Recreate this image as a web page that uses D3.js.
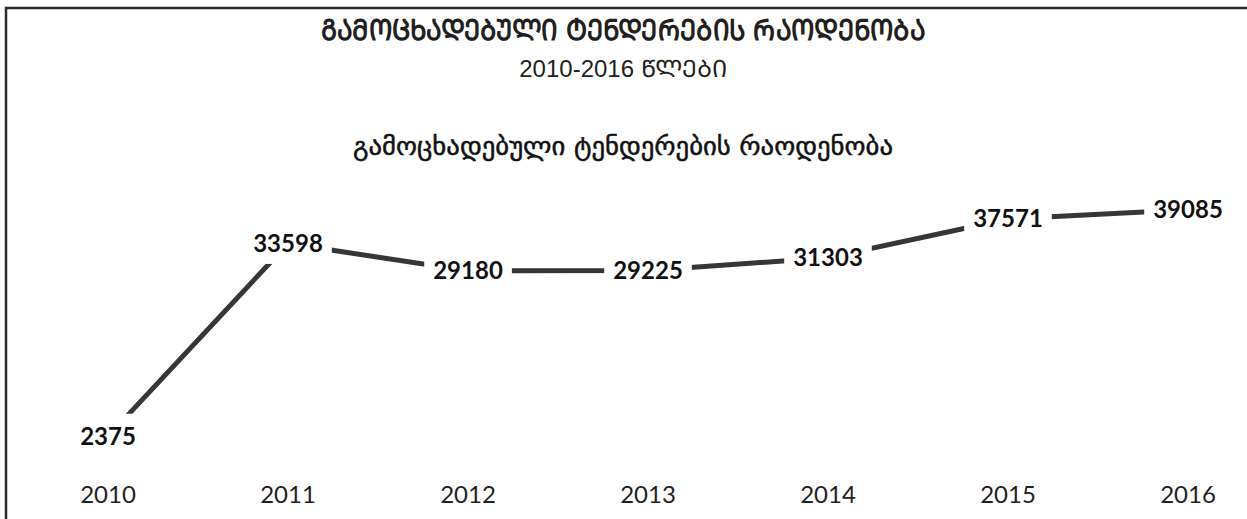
<!DOCTYPE html>
<html>
<head>
<meta charset="utf-8">
<script src="https://cdn.jsdelivr.net/npm/d3@7"></script>
<style>
	body { margin: 0; background: #fff; }
	svg { display: block; }
</style>
</head>
<body>
<div id="chart"></div>
<script>
// ===== data =====
const years = ['2010', '2011', '2012', '2013', '2014', '2015', '2016'];
const tenders = [2375, 33598, 29180, 29225, 31303, 37571, 39085];
const titleMain = 'გამოცხადებული ტენდერების რაოდენობა';
const titleYears = '2010-2016 წლები';
const seriesName = 'გამოცხადებული ტენდერების რაოდენობა';

// mkhedruli -> mtavruli (caps) for the heading
function toCaps(s) {
	return Array.from(s).map(function(ch) {
		const c = ch.charCodeAt(0);
		return (c >= 0x10D0 && c <= 0x10FA) ? String.fromCharCode(c - 0x10D0 + 0x1C90) : ch;
	}).join('');
}

const width = 1247;
const height = 519;

const svg = d3.select('#chart')
	.append('svg')
	.attr('width', width)
	.attr('height', height);

// frame (only top and left edges fall inside the picture)
svg.append('rect')
	.attr('x', 6)
	.attr('y', 8)
	.attr('width', width + 20)
	.attr('height', height + 20)
	.attr('fill', 'none')
	.attr('stroke', '#2b2b2b')
	.attr('stroke-width', 2.5);

// ===== titles =====
svg.append('text')
	.attr('x', 623)
	.attr('y', 40)
	.attr('text-anchor', 'middle')
	.attr('font-family', '"DejaVu Sans Condensed", "DejaVu Sans", sans-serif')
	.attr('font-weight', 'bold')
	.attr('font-size', '29px')
	.attr('fill', '#231f20')
	.attr('textLength', 604)
	.attr('lengthAdjust', 'spacingAndGlyphs')
	.text(toCaps(titleMain));

svg.append('text')
	.attr('x', 623)
	.attr('y', 77)
	.attr('text-anchor', 'middle')
	.attr('font-family', '"Liberation Sans", "DejaVu Sans", sans-serif')
	.attr('font-size', '24px')
	.attr('fill', '#231f20')
	.text(toCaps(titleYears));

svg.append('text')
	.attr('x', 623)
	.attr('y', 155)
	.attr('text-anchor', 'middle')
	.attr('font-family', '"DejaVu Sans", sans-serif')
	.attr('font-size', '25px')
	.attr('fill', '#111')
	.attr('stroke', '#111')
	.attr('stroke-width', 0.5)
	.attr('textLength', 540)
	.attr('lengthAdjust', 'spacingAndGlyphs')
	.text(seriesName);

// ===== scales =====
const x = d3.scalePoint()
	.domain(years)
	.range([108, 1188]);

const y = d3.scaleLinear()
	.domain([0, 40000])
	.range([451, 204]);

const points = years.map(function(yr, i) {
	return { year: yr, value: tenders[i] };
});

// ===== line =====
const line = d3.line()
	.x(d => x(d.year))
	.y(d => y(d.value));

svg.append('path')
	.datum(points)
	.attr('d', line)
	.attr('fill', 'none')
	.attr('stroke', '#363636')
	.attr('stroke-width', 5);

// ===== data labels (white box hides the line behind them) =====
const lbl = svg.selectAll('g.lbl')
	.data(points)
	.enter()
	.append('g')
	.attr('class', 'lbl')
	.attr('transform', d => `translate(${x(d.year)},${y(d.value)})`);

lbl.append('text')
	.attr('text-anchor', 'middle')
	.attr('dy', '0.35em')
	.attr('font-family', 'Lato, "Open Sans", sans-serif')
	.attr('font-weight', 'bold')
	.attr('font-size', '24px')
	.attr('fill', '#111')
	.text(d => d.value);

lbl.each(function() {
	const g = d3.select(this);
	const bb = g.select('text').node().getBBox();
	g.insert('rect', 'text')
		.attr('x', bb.x - 9)
		.attr('y', bb.y - 7)
		.attr('width', bb.width + 18)
		.attr('height', bb.height + 14)
		.attr('fill', '#fff');
});

// ===== x axis labels =====
svg.selectAll('text.yr')
	.data(years)
	.enter()
	.append('text')
	.attr('class', 'yr')
	.attr('x', d => x(d))
	.attr('y', 503)
	.attr('text-anchor', 'middle')
	.attr('font-family', 'Lato, "Open Sans", sans-serif')
	.attr('font-size', '24px')
	.attr('fill', '#222')
	.text(d => d);
</script>
</body>
</html>
